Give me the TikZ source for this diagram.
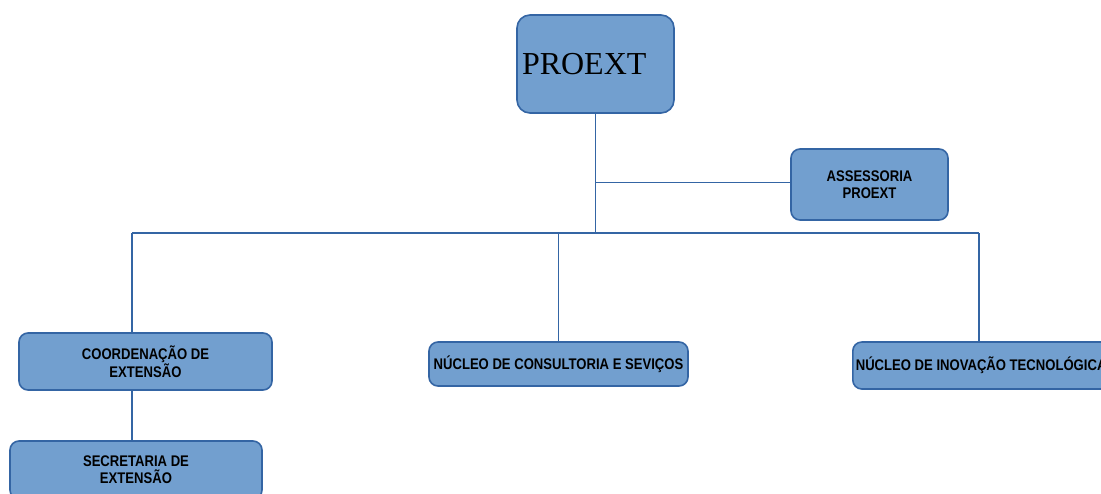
\documentclass[tikz,border=0pt]{standalone}
\usepackage{fontspec}
\setmainfont{Liberation Sans}[FakeStretch=0.85]
\newfontfamily\serifa{Liberation Serif}
\definecolor{azulfundo}{HTML}{729FCF}
\definecolor{azulborda}{HTML}{3465A4}
\tikzset{
	caixa/.style={draw=azulborda, fill=azulfundo, line width=1.6pt, rounded corners=9pt, align=center, inner sep=3pt, font=\fontsize{15.4}{16.8}\selectfont\bfseries},
	liga/.style={draw=azulborda, line width=1.8pt}
}
\begin{document}
\begin{tikzpicture}[x=1pt, y=-1pt, line join=round]
			\useasboundingbox (0,0) rectangle (1101,493);
			\clip (0,0) rectangle (1101,493);
			% caixas
			\node[caixa, rounded corners=13pt, minimum width=157pt, minimum height=98pt, text width=147pt, inner sep=5pt, align=left, font=\fontsize{32}{36}\serifa] (proext) at (595.5,64) {PROEXT};
			\node[caixa, minimum width=157pt, minimum height=71pt] (assessoria) at (869.5,184.5) {ASSESSORIA\\PROEXT};
			\node[caixa, minimum width=253pt, minimum height=57pt] (coord) at (145.5,361.5) {COORDENAÇÃO DE\\EXTENSÃO};
			\node[caixa, minimum width=259pt, minimum height=44pt] (consultoria) at (558.5,364) {NÚCLEO DE CONSULTORIA E SEVIÇOS};
			\node[caixa, minimum height=47pt, anchor=west] (inovacao) at (852,365.5) {NÚCLEO DE INOVAÇÃO TECNOLÓGICA};
			\node[caixa, minimum width=252pt, minimum height=58pt] (secretaria) at (136,470) {SECRETARIA DE\\EXTENSÃO};
			% ligacoes
			\coordinate (meio) at (595.5,233);
			\coordinate (esq) at (132,233);
			\coordinate (dir) at (979,233);
			\draw[liga] (proext.south) -- (meio);
			\draw[liga] (proext.south |- 0,182.5) -- (assessoria.west |- 0,182.5);
			\draw[liga] (esq) -- (dir);
			\draw[liga] (esq) -- (esq |- coord.north);
			\draw[liga] (consultoria.north) -- (consultoria.north |- esq);
			\draw[liga] (dir) -- (dir |- inovacao.north);
			\draw[liga] (esq |- coord.south) -- (esq |- secretaria.north);
		\end{tikzpicture}
\end{document}
